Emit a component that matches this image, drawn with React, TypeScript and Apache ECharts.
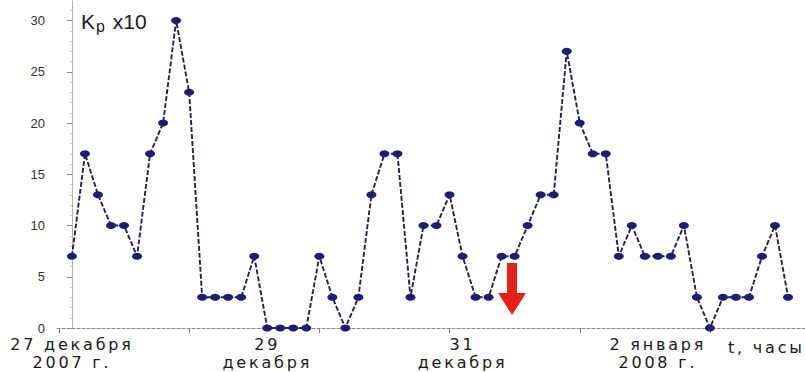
import React, { useEffect, useRef } from "react";
import * as echarts from "echarts";

// Kp index (x10), 3-hour values, 27 December 2007 – 2 January 2008
const kpValues = [
  7, 17, 13, 10, 10, 7, 17, 20, 30, 23,
  3, 3, 3, 3, 7, 0, 0, 0, 0, 7,
  3, 0, 3, 13, 17, 17, 3, 10, 10, 13,
  7, 3, 3, 7, 7, 10, 13, 13, 27, 20,
  17, 17, 7, 10, 7, 7, 7, 10, 3, 0,
  3, 3, 3, 7, 10, 3,
];

// Date labels placed at interval indices
const dateLabelIndex = [0, 15, 30, 45];
const dateLabels = [
  "27 декабря\n2007 г.",
  "29\nдекабря",
  "31\nдекабря",
  "2 января\n2008 г.",
];
const xTickIndex = [-1, 9, 19, 29, 39, 49];
const yTickValues = [0, 5, 10, 15, 20, 25, 30];

// Event marker (arrow) position: interval index and Kp level of its centre
const eventMarker = [33.8, 3.8];

// Wide-spaced captions use DejaVu; the y-axis numbers use Liberation
const WIDE_FONT = "'DejaVu Sans', sans-serif";
const NUM_FONT = "'Liberation Sans', Arial, sans-serif";

const spacingCss = `
#kp-chart text[style*="DejaVu"], #kp-chart text[font-family*="DejaVu"] { letter-spacing: 2.8px; }
`;

export default function App() {
  const ref = useRef<HTMLDivElement>(null);

  useEffect(() => {
    if (!ref.current) return;
    const chart = echarts.init(ref.current, null, { renderer: "svg" });
    const points = kpValues.map((v, i) => [i, v]);

    chart.setOption({
      animation: false,
      backgroundColor: "#ffffff",
      grid: {
        left: 57,
        right: 0,
        top: 0,
        bottom: 44,
        outerBoundsMode: "none",
      },
      xAxis: {
        type: "value",
        min: -1.15,
        max: 56.3,
        splitLine: { show: false },
        axisLine: {
          show: true,
          lineStyle: { color: "#8a8a8a", width: 1, type: [3, 2] },
        },
        axisTick: {
          show: true,
          customValues: xTickIndex,
          length: 5,
          lineStyle: { color: "#777" },
        },
        axisLabel: {
          customValues: dateLabelIndex,
          formatter: (v: number) => {
            const k = dateLabelIndex.indexOf(Math.round(v));
            return k >= 0 ? dateLabels[k] : "";
          },
          color: "#1a1a1a",
          fontFamily: WIDE_FONT,
          fontSize: 16,
          lineHeight: 18,
          margin: 7,
          align: "center",
        },
      },
      yAxis: {
        type: "value",
        min: 0,
        max: 32,
        splitLine: { show: false },
        axisLine: {
          show: true,
          lineStyle: { color: "#a0a0a0", width: 1, type: "dotted" },
        },
        axisTick: {
          show: true,
          customValues: yTickValues,
          length: 5,
          lineStyle: { color: "#888" },
        },
        minorTick: {
          show: true,
          splitNumber: 5,
          length: 2,
          lineStyle: { color: "#c8c8c8" },
        },
        axisLabel: {
          customValues: yTickValues,
          color: "#333",
          fontFamily: NUM_FONT,
          fontSize: 13,
          lineHeight: 12,
          margin: 12,
        },
      },
      series: [
        {
          type: "line",
          data: points,
          symbol: "circle",
          symbolSize: [10, 7],
          itemStyle: { color: "#1e1e70" },
          lineStyle: { color: "#23234a", width: 1.9, type: [5, 2] },
          markPoint: {
            symbol:
              "path://M9,0 L19,0 L19,30 L28,30 L14,52 L0,30 L9,30 Z",
            symbolSize: [28, 52],
            symbolKeepAspect: false,
            itemStyle: { color: "#e3211c" },
            label: { show: false },
            data: [{ coord: eventMarker }],
          },
        },
      ],
      graphic: [
        {
          type: "text",
          left: 81,
          top: 11,
          style: {
            text: "{k|K}{p|p}{k| x10}",
            rich: {
              k: { fontFamily: NUM_FONT, fontSize: 21, fill: "#1a1a1a" },
              p: {
                fontFamily: NUM_FONT,
                fontSize: 16,
                fill: "#1a1a1a",
                padding: [9, 2, 0, 1],
              },
            },
          },
        },
        {
          type: "text",
          left: 728,
          top: 339,
          style: {
            text: "t, часы",
            fontFamily: WIDE_FONT,
            fontSize: 16,
            fill: "#1a1a1a",
          },
        },
      ],
    });

    return () => chart.dispose();
  }, []);

  return (
    <>
      <style>{spacingCss}</style>
      <div
        id="kp-chart"
        ref={ref}
        style={{ position: "fixed", left: 0, top: 0, width: 805, height: 372 }}
      />
    </>
  );
}
